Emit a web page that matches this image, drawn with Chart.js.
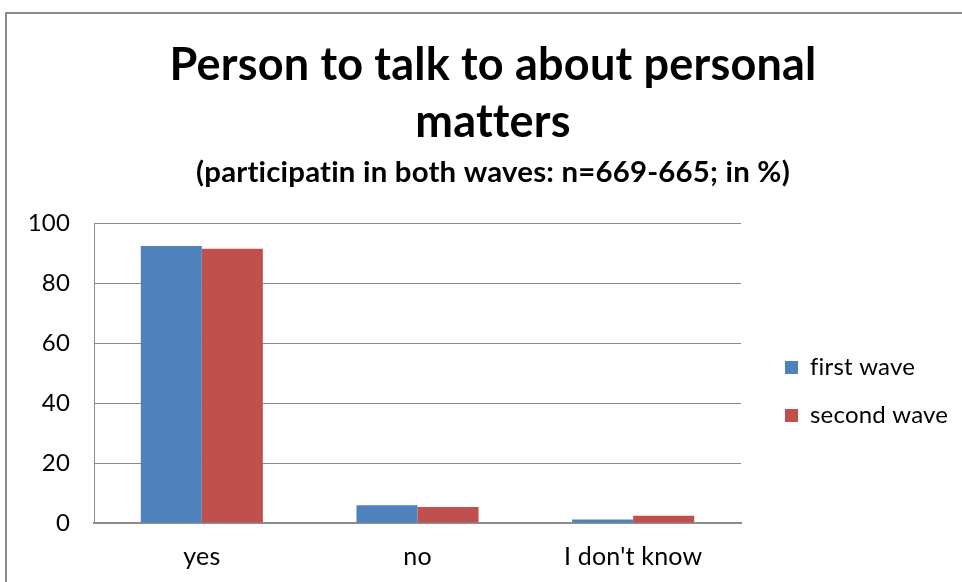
<!DOCTYPE html>
<html>
<head>
<meta charset="utf-8">
<script src="https://cdn.jsdelivr.net/npm/chart.js@4"></script>
<style>
  html, body { margin: 0; padding: 0; background: #fff; }
  #wrap { width: 962px; height: 582px; position: relative; }
</style>
</head>
<body>
<div id="wrap"><canvas id="c" width="962" height="582"></canvas></div>
<script>
// Answer categories and the share (%) in each survey wave
const categories = ["yes", "no", "I don't know"];
const firstWave = [92.4, 5.9, 1.2];
const secondWave = [91.5, 5.3, 2.4];
const yTicks = [0, 20, 40, 60, 80, 100];

const titleLines = ["Person to talk to about personal", "matters"];
const subtitleText = "(participatin in both waves: n=669-665; in %)";

const FONT = "Lato, 'Open Sans', sans-serif";

// Gray frame around the chart; a tiny letter spacing keeps "ti"/"tt" unligated
const framePlugin = {
  id: 'frame',
  beforeDraw(chart) {
    const ctx = chart.ctx;
    ctx.save();
    ctx.fillStyle = '#fff';
    ctx.fillRect(0, 0, chart.width, chart.height);
    ctx.strokeStyle = '#8a8a8a';
    ctx.lineWidth = 2;
    ctx.beginPath();
    ctx.moveTo(6, chart.height + 2);
    ctx.lineTo(6, 13);
    ctx.lineTo(chart.width + 2, 13);
    ctx.stroke();
    ctx.restore();
    ctx.letterSpacing = '0.2px';
  }
};

new Chart(document.getElementById('c'), {
  type: 'bar',
  data: {
    labels: categories,
    datasets: [
      { label: 'first wave', data: firstWave, backgroundColor: '#4F81BD' },
      { label: 'second wave', data: secondWave, backgroundColor: '#C0504D' }
    ]
  },
  options: {
    responsive: false,
    animation: false,
    layout: { padding: { left: 30, right: 6, top: 37, bottom: 10 } },
    datasets: { bar: { categoryPercentage: 0.566, barPercentage: 1.0 } },
    plugins: {
      title: {
        display: true,
        text: titleLines,
        color: '#000',
        font: { family: FONT, size: 45, weight: 'bold', lineHeight: 1.267 },
        padding: { top: 0, bottom: 0 }
      },
      subtitle: {
        display: true,
        text: subtitleText,
        color: '#000',
        font: { family: FONT, size: 29.4, weight: 'bold', lineHeight: 1.2 },
        padding: { top: 4, bottom: 33 }
      },
      legend: {
        position: 'right',
        align: 'start',
        maxWidth: 201,
        // blank legend title used as top spacing for the legend entries
        title: { display: true, text: ' ', font: { size: 10, lineHeight: 1 }, padding: { top: 0, bottom: 284.5 } },
        labels: {
          color: '#000',
          font: { family: FONT, size: 24 },
          boxWidth: 13,
          boxHeight: 13,
          padding: 24
        }
      },
      tooltip: { enabled: false }
    },
    scales: {
      x: {
        afterFit(scale) { scale.height = 49; },
        grid: { display: false, drawTicks: false },
        border: { display: true, color: '#8c8c8c', width: 2 },
        ticks: { color: '#000', font: { family: FONT, size: 25, lineHeight: 1.2 }, padding: 19 }
      },
      y: {
        min: 0,
        max: 100,
        afterBuildTicks(scale) { scale.ticks = yTicks.map(v => ({ value: v })); },
        afterFit(scale) { scale.width = 64; },
        grid: { color: '#8c8c8c', lineWidth: 1, drawTicks: false },
        border: { display: true, color: '#8c8c8c', width: 1 },
        ticks: { color: '#000', font: { family: FONT, size: 24 }, padding: 24 }
      },
      // empty right-hand axis: keeps a gap between the plot and the legend
      gap: {
        position: 'right',
        grid: { display: false, drawTicks: false },
        border: { display: false },
        ticks: { display: false },
        afterFit(scale) { scale.width = 20; }
      }
    }
  },
  plugins: [framePlugin]
});
</script>
</body>
</html>
